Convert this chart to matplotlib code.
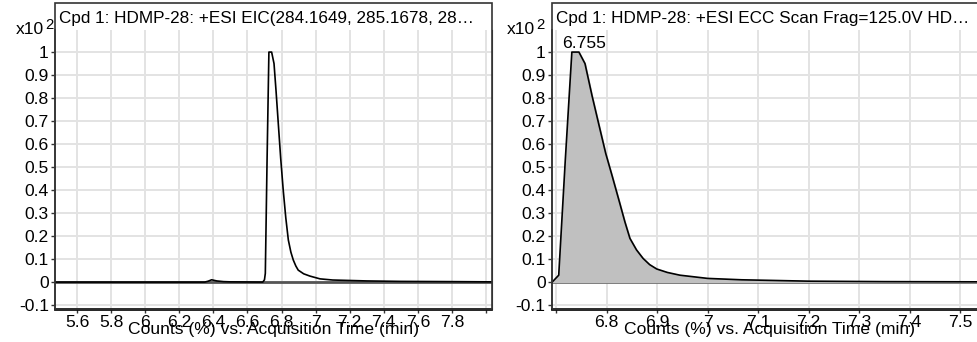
import matplotlib
matplotlib.use('Agg')
import matplotlib.pyplot as plt
from matplotlib.patches import Rectangle

plt.rcParams['font.family'] = ['Liberation Sans', 'DejaVu Sans']

# ---------------- data ----------------
eic_title = "Cpd 1: HDMP-28: +ESI EIC(284.1649, 285.1678, 28\u2026"
eic_time = [5.47, 6.35, 6.37, 6.39, 6.42, 6.46, 6.50, 6.69, 6.700, 6.705, 6.715,
            6.726, 6.742, 6.756, 6.768, 6.781, 6.795, 6.810, 6.825, 6.840, 6.855,
            6.869, 6.884, 6.898, 6.930, 6.967, 7.026, 7.10, 7.30, 7.50, 7.80, 8.03]
eic_counts = [0.0, 0.0, 0.004, 0.010, 0.005, 0.002, 0.001, 0.0, 0.01, 0.038, 0.52,
              1.0, 1.0, 0.95, 0.83, 0.69, 0.54, 0.40, 0.28, 0.183, 0.13,
              0.096, 0.07, 0.052, 0.036, 0.026, 0.014, 0.009, 0.005, 0.003, 0.002, 0.001]
eic_ticks = [5.6, 5.8, 6.0, 6.2, 6.4, 6.6, 6.8, 7.0, 7.2, 7.4, 7.6, 7.8, 8.0]
eic_ticklabels = ["5.6", "5.8", "6", "6.2", "6.4", "6.6", "6.8", "7", "7.2", "7.4", "7.6", "7.8", ""]

ecc_title = "Cpd 1: HDMP-28: +ESI ECC Scan Frag=125.0V HD\u2026"
ecc_time = [6.692, 6.705, 6.718, 6.731, 6.745, 6.757, 6.771, 6.785, 6.798, 6.811,
            6.826, 6.836, 6.846, 6.859, 6.872, 6.885, 6.899, 6.920, 6.945, 7.000,
            7.067, 7.20, 7.35, 7.555]
ecc_counts = [0.0, 0.03, 0.53, 1.0, 1.0, 0.95, 0.81, 0.68, 0.56, 0.46,
              0.342, 0.262, 0.19, 0.14, 0.103, 0.076, 0.057, 0.042, 0.030, 0.016,
              0.010, 0.004, 0.002, 0.001]
ecc_ticks = [6.7, 6.8, 6.9, 7.0, 7.1, 7.2, 7.3, 7.4, 7.5]
ecc_ticklabels = ["", "6.8", "6.9", "7", "7.1", "7.2", "7.3", "7.4", "7.5"]
ecc_peak_label = "6.755"
ecc_peak_time = 6.755

y_ticks = [-0.1, 0.0, 0.1, 0.2, 0.3, 0.4, 0.5, 0.6, 0.7, 0.8, 0.9, 1.0]
y_ticklabels = ["-0.1", "0", "0.1", "0.2", "0.3", "0.4", "0.5", "0.6", "0.7", "0.8", "0.9", "1"]
x_label = "Counts (%) vs. Acquisition Time (min)"
scale_label = "x10"
scale_exp = "2"

# ---------------- layout ----------------
W, H = 977, 342
fig = plt.figure(figsize=(W / 100, H / 100), dpi=100)
FS = 12.6
FS_TITLE = 12.3

def fx(px):
    return px / W

def fy(py):
    return 1 - py / H

plot_top, plot_bot, frame_top = 30, 309, 3

def make_panel(left_px, right_px, xlim, times, counts, ticks, ticklabels, title, fill):
    ax = fig.add_axes([fx(left_px), fy(plot_bot), fx(right_px - left_px), (plot_bot - plot_top) / H])
    ax.set_xlim(*xlim)
    ax.set_ylim(-0.117, 1.096)
    ax.set_xticks(ticks)
    ax.set_xticklabels(ticklabels)
    ax.set_yticks(y_ticks)
    ax.set_yticklabels(y_ticklabels)
    ax.grid(True, color='#e3e3e3', linewidth=1.4)
    ax.set_axisbelow(True)
    ax.tick_params(axis='both', labelsize=FS, length=3, width=1, color='#333333', pad=1.5)
    ax.spines['top'].set_visible(False)
    ax.spines['right'].set_color('#444444')
    ax.spines['left'].set_color('#444444')
    ax.spines['left'].set_linewidth(1.2)
    ax.spines['bottom'].set_color('#111111')
    ax.spines['bottom'].set_linewidth(2.0)
    ax.axhline(0, color='#555555', linewidth=2.0, zorder=2)
    if fill:
        ax.fill_between(times, counts, 0, color='#c0c0c0', zorder=2.5)
    ax.plot(times, counts, color='black', linewidth=1.2, zorder=3)
    ax.set_xlabel(x_label, fontsize=FS)
    ax.xaxis.set_label_coords(0.5, -0.045)
    ax.xaxis.label.set_va('top')
    # frame including title strip
    fig.patches.append(Rectangle((fx(left_px), fy(plot_bot)), fx(right_px - left_px),
                                 (plot_bot - frame_top) / H, transform=fig.transFigure,
                                 fill=False, edgecolor='#333333', linewidth=1.2))
    fig.text(fx(left_px + 4), fy(22.5), title, fontsize=FS_TITLE, va='baseline', ha='left')
    return ax

ax1 = make_panel(55, 491.5, (5.471, 8.032), eic_time, eic_counts, eic_ticks, eic_ticklabels,
                 eic_title, False)
ax2 = make_panel(552, 988, (6.6917, 7.555), ecc_time, ecc_counts, ecc_ticks, ecc_ticklabels,
                 ecc_title, True)

ax2.text(ecc_peak_time, 1.017, ecc_peak_label, fontsize=FS, ha='center', va='baseline')

for left_px, off in ((55, 11.5), (552, 17)):
    fig.text(fx(left_px - off), fy(33.5), scale_label, fontsize=FS, ha='right', va='baseline')
    fig.text(fx(left_px - off + 1.5), fy(29), scale_exp, fontsize=FS * 0.85, ha='left', va='baseline')

fig.savefig('out.png', dpi=100)
